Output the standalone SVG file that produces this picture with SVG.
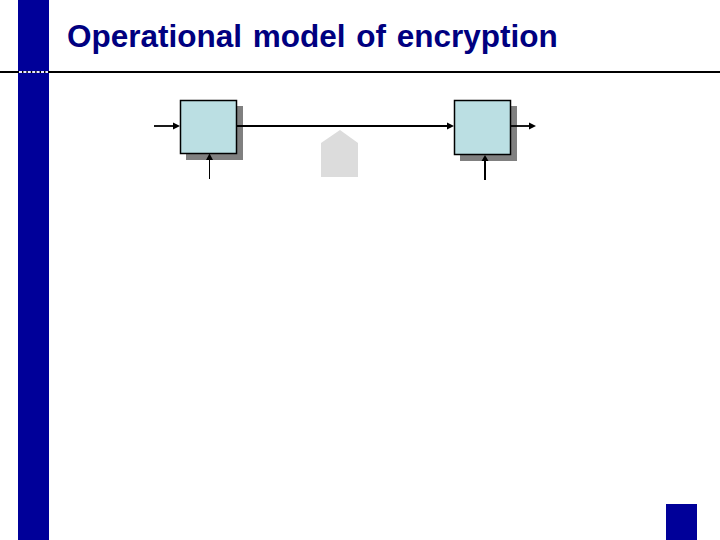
<svg xmlns="http://www.w3.org/2000/svg" width="720" height="540" viewBox="0 0 720 540">
<style>
.bar{fill:#000099}
.shadow{fill:#808080}
.box{fill:#bbdfe3;stroke:#000;stroke-width:1.5}
.line{stroke:#000;fill:none}
.head{fill:#000}
text{font-family:"Liberation Sans",Arial,sans-serif;font-weight:bold;font-size:31.5px;word-spacing:2px;fill:#000080}
</style>
<rect width="720" height="540" fill="#fff"/>
<g id="background">
<rect class="bar" x="18" y="0" width="31" height="540"/>
<rect class="bar" x="666" y="504" width="31" height="36"/>
<line class="line" x1="0" y1="72" x2="720" y2="72" stroke-width="2"/>
<line x1="19" y1="72" x2="48" y2="72" stroke="#e8e8ff" stroke-width="2" stroke-dasharray="3 1.4"/>
</g>
<text id="title" x="67" y="47">Operational model of encryption</text>
<g id="node-left">
<rect class="shadow" x="186" y="106" width="57" height="54"/>
<rect class="box" x="180.500" y="100.500" width="56" height="53"/>
</g>
<g id="node-right">
<rect class="shadow" x="460" y="106" width="57" height="55"/>
<rect class="box" x="454.500" y="100.500" width="56" height="54"/>
</g>
<g id="node-key">
<polygon points="321,143 340,130 358,143 358,177 321,177" fill="#dcdcdc"/>
</g>
<g id="connectors">
<line class="line" x1="154" y1="126" x2="176" y2="126" stroke-width="1.8"/>
<polygon class="head" points="173,122.500 180,126 173,129.500"/>
<line class="line" x1="237" y1="126" x2="450" y2="126" stroke-width="1.8"/>
<polygon class="head" points="447,122.500 454,126 447,129.500"/>
<line class="line" x1="511" y1="126" x2="532" y2="126" stroke-width="1.8"/>
<polygon class="head" points="529,122.500 536,126 529,129.500"/>
<line class="line" x1="209.500" y1="179" x2="209.500" y2="158" stroke-width="1"/>
<polygon class="head" points="206,160 209.500,153.500 213,160"/>
<line class="line" x1="485" y1="180" x2="485" y2="159" stroke-width="2"/>
<polygon class="head" points="481.500,161 485,155 488.500,161"/>
</g>
</svg>
